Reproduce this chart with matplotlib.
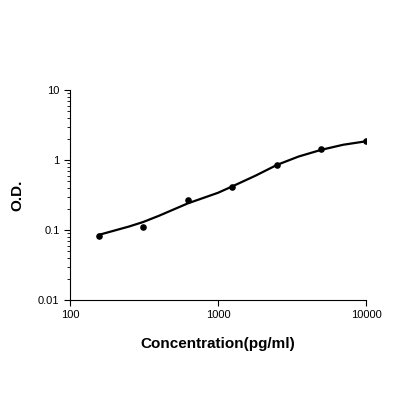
import matplotlib
matplotlib.use("Agg")
import matplotlib.pyplot as plt
from matplotlib.ticker import FixedLocator, FixedFormatter, LogLocator, NullFormatter

plt.rcParams["font.family"] = ["Liberation Sans", "DejaVu Sans"]

# Standard points
conc = [156, 312, 625, 1250, 2500, 5000, 10000]
od = [0.082, 0.112, 0.27, 0.41, 0.85, 1.42, 1.85]

# Fitted curve
curve_x = [156, 250, 312, 400, 625, 1000, 1250, 1800, 2500, 3500, 5000, 7000, 10000]
curve_y = [0.085, 0.112, 0.13, 0.16, 0.24, 0.34, 0.42, 0.6, 0.85, 1.12, 1.4, 1.65, 1.85]

fig = plt.figure(figsize=(4, 4), dpi=100)
ax = fig.add_axes([0.175, 0.25, 0.74, 0.525])

ax.plot(curve_x, curve_y, color="black", lw=1.6)
ax.scatter(conc, od, color="black", s=14, zorder=3)

ax.set_xscale("log")
ax.set_yscale("log")
ax.set_xlim(100, 10000)
ax.set_ylim(0.01, 10)

ax.xaxis.set_major_locator(FixedLocator([100, 1000, 10000]))
ax.xaxis.set_major_formatter(FixedFormatter(["100", "1000", "10000"]))
ax.xaxis.set_minor_locator(FixedLocator([]))
ax.yaxis.set_major_locator(FixedLocator([0.01, 0.1, 1, 10]))
ax.yaxis.set_major_formatter(FixedFormatter(["0.01", "0.1", "1", "10"]))
ax.yaxis.set_minor_locator(LogLocator(base=10, subs=range(2, 10)))
ax.yaxis.set_minor_formatter(NullFormatter())

ax.tick_params(axis="both", which="major", labelsize=8, length=4)
ax.tick_params(axis="y", which="minor", length=2)

for side in ["top", "right"]:
    ax.spines[side].set_visible(False)

ax.set_xlabel("Concentration(pg/ml)", fontsize=11, fontweight="bold", labelpad=12)
ax.set_ylabel("O.D.", fontsize=11, fontweight="bold", labelpad=10)

fig.savefig("out.png", dpi=100)
